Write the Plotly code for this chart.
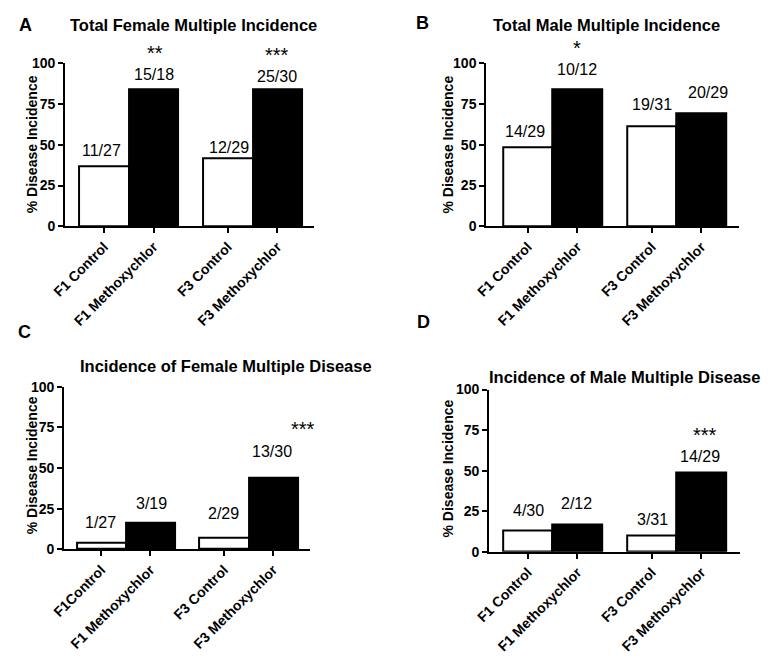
import plotly.graph_objects as go

# ---------------- data ----------------
cats_A = ["F1 Control", "F1 Methoxychlor", "F3 Control", "F3 Methoxychlor"]
cats_B = ["F1 Control", "F1 Methoxychlor", "F3 Control", "F3 Methoxychlor"]
cats_C = ["F1Control", "F1 Methoxychlor", "F3 Control", "F3 Methoxychlor"]
cats_D = ["F1 Control", "F1 Methoxychlor", "F3 Control", "F3 Methoxychlor"]

vals_A = [37.0, 84.0, 41.5, 84.0]
vals_B = [48.5, 84.0, 61.5, 69.5]
vals_C = [4.0, 16.5, 7.3, 44.0]
vals_D = [13.4, 17.0, 9.8, 49.0]

frac_A = ["11/27", "15/18", "12/29", "25/30"]
frac_B = ["14/29", "10/12", "19/31", "20/29"]
frac_C = ["1/27", "3/19", "2/29", "13/30"]
frac_D = ["4/30", "2/12", "3/31", "14/29"]

stars_A = ["", "**", "", "***"]
stars_B = ["", "*", "", ""]
stars_C = ["", "", "", "***"]
stars_D = ["", "", "", "***"]

titles = ["Total Female Multiple Incidence", "Total Male Multiple Incidence",
          "Incidence of Female Multiple Disease", "Incidence of Male Multiple Disease"]
letters = ["A", "B", "C", "D"]
yticks = [0, 25, 50, 75, 100]

# ---------------- layout constants ----------------
W, H = 768, 659
FONT = "Liberation Sans, Arial, Helvetica, sans-serif"
FRAC_SIZE, STAR_SIZE = 16, 20

def fx(px):
    return px / W

def fy(py):
    return 1 - py / H

panel_px = [  # x0, x1, ytop, ybottom of plot area in pixels
    (52, 306, 56.7, 223.7),
    (481, 738, 56.7, 223.7),
    (51, 302, 388.3, 554.7),
    (484, 739, 391, 557.3),
]
xranges = [(-0.79, 4.25), (-0.84, 4.25), (-0.756, 4.26), (-0.78, 4.27)]
title_px = [(183, 17), (603, 17), (216, 367), (622, 378)]
letter_px = [(12, 17), (416, 15), (11, 332), (417, 322)]
ytitle_px = [(18, 140), (442, 140), (18, 469), (442, 472)]

# visual gap (px) between bar top and label baseline, plus horizontal nudges
frac_gap = [[10.3, 10, 6.3, 8], [11, 15, 16.7, 15], [15, 14, 19, 21], [14, 15.7, 11, 11]]
frac_dx = [[-2.7, 0, 1, 0], [-3, 0, 0, 6.7], [-1, 1, -1, -1], [0.5, -1, 0.7, -1]]
# star visual centre distance above bar top (px) and horizontal nudge
star_gap = [[0, 38, 0, 37], [0, 42, 0, 0], [0, 0, 0, 53], [0, 0, 0, 40]]
star_dx = [[0, 1, 0, 0], [0, 0, 0, 0], [0, 0, 0, 30], [0, 0, 0, 4]]

all_cats = [cats_A, cats_B, cats_C, cats_D]
all_vals = [vals_A, vals_B, vals_C, vals_D]
all_frac = [frac_A, frac_B, frac_C, frac_D]
all_stars = [stars_A, stars_B, stars_C, stars_D]

fig = go.Figure()
annotations = []
layout = {}

for p in range(4):
    cats, vals = all_cats[p], all_vals[p]
    n = len(cats)
    pos = [i + 0.5 * (i // 2) for i in range(n)]  # pairs separated by extra gap
    colors = ["white" if i % 2 == 0 else "black" for i in range(n)]
    sfx = "" if p == 0 else str(p + 1)
    fig.add_trace(go.Bar(
        x=pos, y=vals, width=1.0,
        marker=dict(color=colors, line=dict(color="black", width=2)),
        xaxis="x" + sfx, yaxis="y" + sfx, showlegend=False, hoverinfo="skip",
    ))
    x0, x1, yt, yb = panel_px[p]
    layout["xaxis" + sfx] = dict(
        domain=[fx(x0), fx(x1)], range=list(xranges[p]), anchor="y" + sfx,
        tickmode="array", tickvals=pos, ticktext=cats, tickangle=-45,
        ticks="outside", ticklen=5, tickwidth=2, tickcolor="black",
        showline=True, linewidth=2, linecolor="black", showgrid=False, zeroline=False,
        tickfont=dict(family=FONT, size=14, color="black", weight="bold"),
        fixedrange=True,
    )
    layout["yaxis" + sfx] = dict(
        domain=[fy(yb), fy(yt)], range=[0, 100], anchor="x" + sfx,
        tickmode="array", tickvals=yticks,
        ticks="outside", ticklen=5, tickwidth=2, tickcolor="black",
        showline=True, linewidth=2, linecolor="black", showgrid=False, zeroline=False,
        tickfont=dict(family=FONT, size=14, color="black", weight="bold"),
        fixedrange=True,
    )
    xr, yr = "x" + sfx, "y" + sfx
    for i in range(n):
        f_shift = frac_gap[p][i] - 5.4
        annotations.append(dict(
            x=pos[i], y=vals[i], xref=xr, yref=yr, text=all_frac[p][i],
            showarrow=False, xanchor="center", yanchor="bottom",
            yshift=f_shift, xshift=frac_dx[p][i],
            font=dict(family=FONT, size=FRAC_SIZE, color="black"),
        ))
        if all_stars[p][i]:
            s_shift = star_gap[p][i] - (2 + 0.78 * STAR_SIZE)
            if star_dx[p][i] < 15:  # stacked above the fraction: keep boxes apart
                s_shift = max(s_shift, f_shift + 19)
            annotations.append(dict(
                x=pos[i], y=vals[i], xref=xr, yref=yr, text=all_stars[p][i],
                showarrow=False, xanchor="center", yanchor="bottom",
                yshift=s_shift, xshift=star_dx[p][i],
                font=dict(family=FONT, size=STAR_SIZE, color="black"),
            ))
    tx, ty = title_px[p]
    annotations.append(dict(
        x=fx(tx), y=fy(ty), xref="paper", yref="paper", text=titles[p],
        showarrow=False, xanchor="center", yanchor="middle",
        font=dict(family=FONT, size=16.5, color="black", weight="bold"),
    ))
    lx, ly = letter_px[p]
    annotations.append(dict(
        x=fx(lx), y=fy(ly), xref="paper", yref="paper", text=letters[p],
        showarrow=False, xanchor="center", yanchor="middle",
        font=dict(family=FONT, size=18, color="black", weight="bold"),
    ))
    ax_, ay_ = ytitle_px[p]
    annotations.append(dict(
        x=fx(ax_), y=fy(ay_), xref="paper", yref="paper", text="% Disease Incidence",
        showarrow=False, xanchor="center", yanchor="middle", textangle=-90,
        font=dict(family=FONT, size=14, color="black", weight="bold"),
    ))

fig.update_layout(
    width=W, height=H, margin=dict(l=0, r=0, t=0, b=0),
    paper_bgcolor="white", plot_bgcolor="white",
    annotations=annotations, bargap=0, **layout,
)

fig.write_html("out.html", config={"displayModeBar": False},
               post_script="document.body.style.margin='0';")
